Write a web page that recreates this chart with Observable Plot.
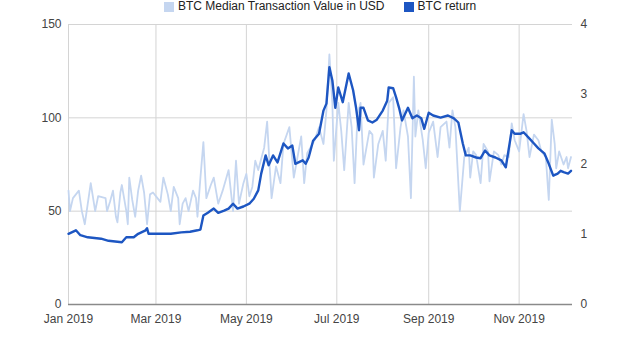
<!DOCTYPE html>
<html>
<head>
<meta charset="utf-8">
<script src="https://cdn.jsdelivr.net/npm/d3@7"></script>
<script src="https://cdn.jsdelivr.net/npm/@observablehq/plot@0.6"></script>
<style>
  html, body { margin: 0; padding: 0; background: #fff; overflow: hidden; }
  #wrap { position: relative; width: 640px; height: 351px; }
  #legend { position: absolute; top: 0px; left: 164px; display: flex; align-items: center; z-index: 2;
            font: 12px "Liberation Sans", Arial, sans-serif; color: #222; line-height: 13px; white-space: nowrap; }
  .sw { width: 10px; height: 10px; display: inline-block; margin-right: 4px; }
  .item { display: flex; align-items: center; margin-right: 19px; }
</style>
</head>
<body>
<div id="wrap">
  <div id="legend"></div>
  <div id="chart"></div>
</div>
<script>
// Series names
const seriesNames = ["BTC Median Transaction Value in USD", "BTC return"];
const seriesColors = ["#c5d6f0", "#1d56c2"];

// Day offsets from 2019-01-01 and BTC median transaction value (USD, left axis)
const medianDays = [0,1,3,7,9,11,15,18,20,25,26,28,30,32,33,35,36,39,40,41,43,45,47,49,51,53,55,57,60,62,64,67,69,71,74,75,77,79,81,84,86,87,89,91,93,96,98,101,104,108,111,113,115,118,120,122,124,126,128,132,134,136,137,140,143,145,149,152,157,159,161,166,169,172,174,176,178,179,182,184,186,189,191,193,195,197,199,203,205,206,209,212,214,216,219,221,224,226,229,231,233,234,236,239,241,243,246,249,251,255,257,259,261,264,267,270,271,273,275,278,280,283,284,287,290,292,294,297,299,301,304,307,309,311,314,317,319,322,324,326,328,329,331,334,336,337,339];
const medianUSD = [61,50,57,61,50,43,65,50,58,57,50,55,61,47,44,60,64,50,43,68,56,47,61,69,60,43,59,60,57,55,68,59,50,63,57,43,54,57,50,61,57,47,68,87,57,64,68,54,61,72,50,77,54,65,70,58,63,77,72,84,98,70,57,74,65,86,95,68,90,65,81,88,95,86,104,134,108,77,108,93,72,108,95,65,102,108,75,93,91,68,86,93,77,108,111,73,95,104,90,57,122,90,104,88,73,92,98,79,95,98,84,104,95,50,79,84,68,82,80,65,86,82,66,82,80,75,80,79,97,88,82,102,93,79,91,88,82,79,56,99,86,73,82,75,79,73,79];

// Day offsets from 2019-01-01 and BTC return (right axis)
const returnDays = [0,5,8,13,22,27,36,39,44,47,52,53,54,60,69,76,82,87,89,91,94,98,101,105,108,111,114,118,122,125,128,130,133,135,138,141,145,148,151,153,158,160,162,165,169,172,174,176,178,180,182,185,189,192,194,196,197,199,202,205,208,212,215,216,219,221,223,225,229,232,235,238,240,243,246,251,256,260,263,266,268,271,275,278,281,284,288,292,295,299,301,305,307,311,314,317,321,324,327,330,332,334,337,339];
const btcReturn = [1.01,1.06,0.99,0.96,0.94,0.91,0.89,0.96,0.96,1.01,1.06,1.09,1.01,1.01,1.01,1.03,1.04,1.06,1.07,1.27,1.31,1.37,1.31,1.34,1.37,1.44,1.37,1.40,1.44,1.51,1.63,1.87,2.13,1.99,2.13,2.03,2.30,2.23,2.27,2.01,2.06,2.01,2.10,2.34,2.44,2.77,2.87,3.39,3.20,2.81,3.10,2.89,3.30,3.06,2.81,2.49,2.81,2.81,2.63,2.60,2.64,2.77,2.91,3.10,3.09,2.96,2.81,2.63,2.81,2.66,2.70,2.66,2.51,2.74,2.70,2.67,2.70,2.66,2.60,2.30,2.13,2.13,2.10,2.09,2.20,2.13,2.10,2.06,1.96,2.49,2.44,2.44,2.46,2.37,2.30,2.23,2.16,2.01,1.84,1.87,1.91,1.89,1.87,1.91];

// Axis ticks
const xTickDates = ["2019-01-01","2019-03-01","2019-05-01","2019-07-01","2019-09-01","2019-11-01"];
const leftTicks = [0, 50, 100, 150];
const rightTicks = [0, 1, 2, 3, 4];
const leftMax = 150, rightMax = 4;

const base = Date.UTC(2019, 0, 1);
const toDate = d => new Date(base + d * 864e5);
const median = medianDays.map((d, i) => ({date: toDate(d), value: medianUSD[i]}));
const ret = returnDays.map((d, i) => ({date: toDate(d), value: btcReturn[i]}));
const xTicks = xTickDates.map(s => new Date(s + "T00:00:00Z"));
const scaleR = v => v * leftMax / rightMax;

// legend
const legend = document.getElementById("legend");
seriesNames.forEach((n, i) => {
  const it = document.createElement("span");
  it.className = "item";
  const sw = document.createElement("span");
  sw.className = "sw";
  sw.style.background = seriesColors[i];
  const t = document.createElement("span");
  t.textContent = n;
  it.appendChild(sw); it.appendChild(t);
  legend.appendChild(it);
});

const chart = Plot.plot({
  width: 640,
  height: 351,
  marginTop: 24,
  marginBottom: 47,
  marginLeft: 68,
  marginRight: 68,
  style: {fontFamily: "'Liberation Sans', Arial, sans-serif", fontSize: "12px", color: "#444", background: "#fff"},
  x: {type: "utc", domain: [toDate(0), new Date(Date.UTC(2019, 11, 7))]},
  y: {domain: [0, leftMax]},
  marks: [
    Plot.gridX(xTicks, {stroke: "#d4d4d4", strokeOpacity: 1}),
    Plot.gridY(leftTicks, {stroke: "#d4d4d4", strokeOpacity: 1}),
    Plot.ruleY([0], {stroke: "#8a8a8a", strokeWidth: 1.3}),
    Plot.lineY(median, {x: "date", y: "value", stroke: seriesColors[0], strokeWidth: 1.8}),
    Plot.lineY(ret, {x: "date", y: d => scaleR(d.value), stroke: seriesColors[1], strokeWidth: 2.4}),
    Plot.axisX(xTicks, {tickSize: 0, tickPadding: 10, tickFormat: d3.utcFormat("%b %Y"), label: null, fill: "#444"}),
    Plot.axisY(leftTicks, {anchor: "left", tickSize: 0, tickPadding: 7, label: null, fill: "#444"}),
    Plot.axisY(rightTicks.map(scaleR), {anchor: "right", tickSize: 0, tickPadding: 8, label: null, fill: "#444",
      tickFormat: v => String(Math.round(v * rightMax / leftMax))})
  ]
});
document.getElementById("chart").appendChild(chart);
</script>
</body>
</html>
